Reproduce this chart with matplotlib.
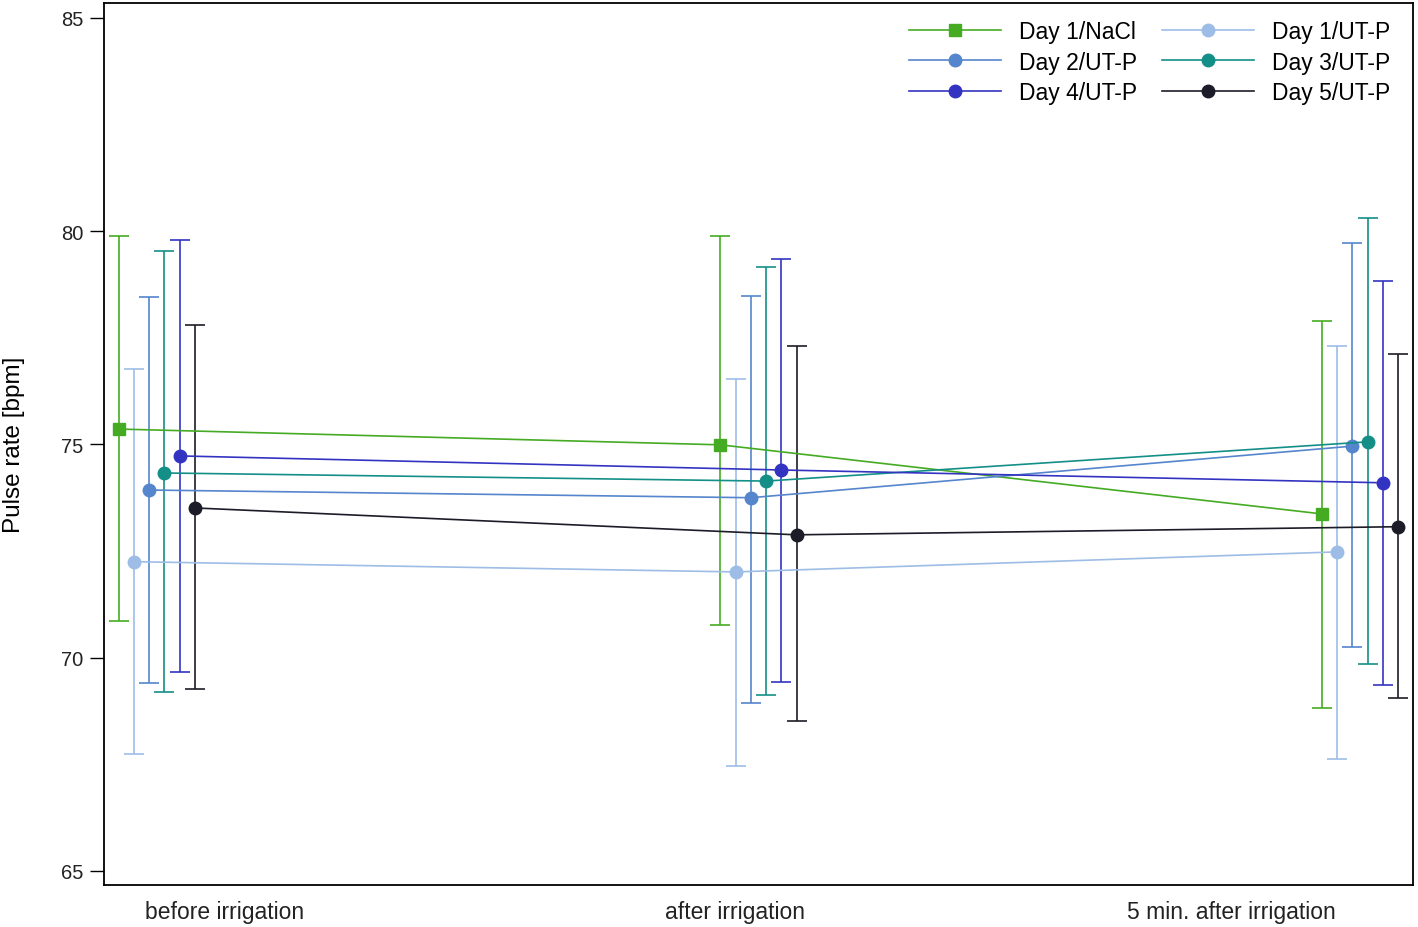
import numpy as np
import matplotlib
matplotlib.use("Agg")
import matplotlib.pyplot as plt

plt.rcParams['font.family'] = ['Liberation Sans', 'DejaVu Sans']

timepoints = ['before irrigation', 'after irrigation', '5 min. after irrigation']
series = ['Day 1/NaCl', 'Day 1/UT-P', 'Day 2/UT-P', 'Day 3/UT-P', 'Day 4/UT-P', 'Day 5/UT-P']

means = {
    'Day 1/NaCl': [75.36, 74.99, 73.37],
    'Day 1/UT-P': [72.25, 72.01, 72.48],
    'Day 2/UT-P': [73.93, 73.75, 74.96],
    'Day 3/UT-P': [74.33, 74.14, 75.06],
    'Day 4/UT-P': [74.73, 74.40, 74.10],
    'Day 5/UT-P': [73.51, 72.88, 73.07],
}
upper = {
    'Day 1/NaCl': [79.89, 79.89, 77.90],
    'Day 1/UT-P': [76.77, 76.54, 77.31],
    'Day 2/UT-P': [78.46, 78.48, 79.72],
    'Day 3/UT-P': [79.54, 79.16, 80.31],
    'Day 4/UT-P': [79.79, 79.35, 78.83],
    'Day 5/UT-P': [77.80, 77.31, 77.12],
}
lower = {
    'Day 1/NaCl': [70.86, 70.77, 68.82],
    'Day 1/UT-P': [67.74, 67.46, 67.63],
    'Day 2/UT-P': [69.41, 68.94, 70.25],
    'Day 3/UT-P': [69.20, 69.13, 69.85],
    'Day 4/UT-P': [69.67, 69.43, 69.36],
    'Day 5/UT-P': [69.27, 68.52, 69.06],
}

colors = ['#45ab22', '#9dbde6', '#5585cc', '#148f88', '#3333c2', '#1c1c28']
markers = ['s', 'o', 'o', 'o', 'o', 'o']

fig = plt.figure(figsize=(14.18, 9.28), dpi=100)
ax = fig.add_axes([0.0733, 0.0453, 0.9232, 0.9504])

x = np.arange(len(timepoints))
step = 0.0253
handles = {}
for i, s in enumerate(series):
    xs = x + (i - 2.5) * step
    m = np.array(means[s])
    err = [m - np.array(lower[s]), np.array(upper[s]) - m]
    ax.errorbar(xs, m, yerr=err, fmt='none', ecolor=colors[i],
                elinewidth=1.2, capsize=7, capthick=1.2, zorder=2)
    h, = ax.plot(xs, m, color=colors[i], lw=1.2, marker=markers[i],
                 ms=9 if markers[i] == 'o' else 8.5, zorder=3, label=s)
    handles[s] = h

ax.set_xlim(-0.088, 2.088)
ax.set_ylim(64.67, 85.35)
ax.set_yticks([65, 70, 75, 80, 85])
ax.tick_params(axis='y', labelsize=14.5, length=10, width=1, pad=5, labelcolor='#222222')
ax.set_xticks([0.113, 0.961, 1.786])
ax.set_xticklabels(timepoints)
ax.tick_params(axis='x', labelsize=16.5, length=0, pad=11, labelcolor='#222222')
ax.set_ylabel('Pulse rate [bpm]', fontsize=17.5, labelpad=26)
for sp in ax.spines.values():
    sp.set_linewidth(1.3)

order = ['Day 1/NaCl', 'Day 2/UT-P', 'Day 4/UT-P', 'Day 1/UT-P', 'Day 3/UT-P', 'Day 5/UT-P']
ax.legend([handles[s] for s in order], order, ncol=2, loc='upper right',
          bbox_to_anchor=(0.996, 1.0),
          frameon=False, fontsize=16.5, handlelength=4.0, columnspacing=1.1,
          labelspacing=0.32, handletextpad=0.8, borderaxespad=0.35)

fig.savefig('out.png', dpi=100)
